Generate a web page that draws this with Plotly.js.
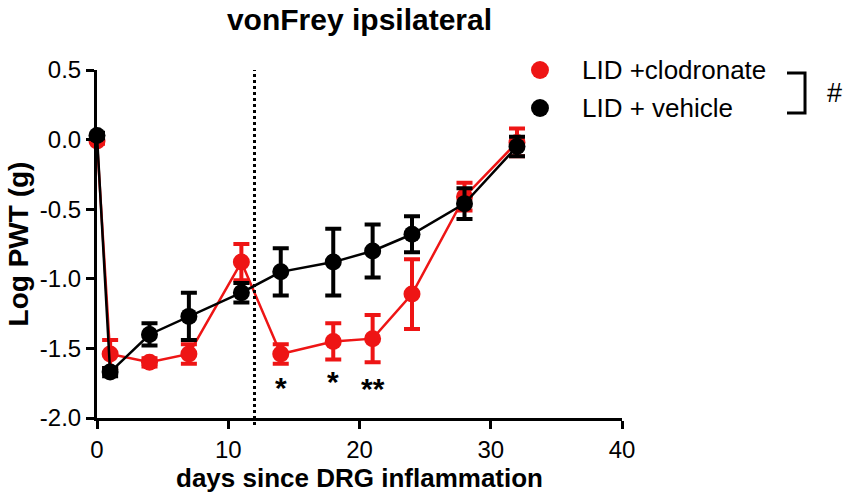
<!DOCTYPE html>
<html>
<head>
<meta charset="utf-8">
<script src="https://cdn.plot.ly/plotly-3.0.1.min.js"></script>
<style>
  body { margin: 0; background: #fff; }
  #chart { width: 851px; height: 504px; }
</style>
</head>
<body>
<div id="chart"></div>
<script>
// Jours et valeurs
const days = [0, 1, 4, 7, 11, 14, 18, 21, 24, 28, 32];
const clodronate = [-0.01, -1.54, -1.6, -1.54, -0.88, -1.54, -1.45, -1.43, -1.11, -0.41, -0.02];
const clodronateErr = [0.02, 0.1, 0.03, 0.07, 0.13, 0.07, 0.13, 0.17, 0.25, 0.1, 0.1];
const vehicle = [0.03, -1.67, -1.4, -1.27, -1.1, -0.95, -0.88, -0.8, -0.68, -0.46, -0.05];
const vehicleErr = [0.02, 0.03, 0.08, 0.17, 0.07, 0.17, 0.24, 0.19, 0.13, 0.11, 0.07];

const seriesNames = ["LID +clodronate", "LID + vehicle"];
const starDays = [14, 18, 21];
const starLabels = ["*", "*", "**"];
const starY = [-1.78, -1.74, -1.79];
const treatmentDay = 12;

const red = "#ee1515";
const font = "Liberation Sans, Arial, sans-serif";

function makeTrace(y, err, color) {
  return {
    x: days,
    y: y,
    type: "scatter",
    mode: "lines+markers",
    line: { color: color, width: 2.5 },
    marker: { color: color, size: 17 },
    error_y: { type: "data", array: err, visible: true, color: color, thickness: 4, width: 8 },
    cliponaxis: false,
    showlegend: false,
  };
}

const data = [makeTrace(clodronate, clodronateErr, red), makeTrace(vehicle, vehicleErr, "black")];

let annotations = starDays.map((d, i) => ({
  x: d, y: starY[i], text: starLabels[i], showarrow: false,
  font: { family: font, size: 30, weight: "bold", color: "black" },
}));

// légende faite à la main
annotations.push(
  { xref: "paper", yref: "paper", x: 0.92, y: 1.0, xanchor: "left", yanchor: "middle",
    text: seriesNames[0], showarrow: false, font: { family: font, size: 26, color: "black" } },
  { xref: "paper", yref: "paper", x: 0.92, y: 0.891, xanchor: "left", yanchor: "middle",
    text: seriesNames[1], showarrow: false, font: { family: font, size: 26, color: "black" } },
  { xref: "paper", yref: "paper", x: 1.404, y: 0.934, xanchor: "center", yanchor: "middle",
    text: "#", showarrow: false, font: { family: font, size: 27, color: "black" } }
);

const shapes = [
  { type: "line", xref: "x", yref: "paper", x0: treatmentDay, x1: treatmentDay, y0: -0.02, y1: 1,
    line: { color: "black", width: 3, dash: "dot" } },
  { type: "circle", xref: "paper", yref: "paper", x0: 0.8267, x1: 0.8609, y0: 0.9741, y1: 1.0259,
    fillcolor: red, line: { width: 0 } },
  { type: "circle", xref: "paper", yref: "paper", x0: 0.8267, x1: 0.8609, y0: 0.8649, y1: 0.9167,
    fillcolor: "black", line: { width: 0 } },
  { type: "path", xref: "paper", yref: "paper",
    path: "M 1.3143 0.9914 L 1.3486 0.9914 L 1.3486 0.8764 L 1.3143 0.8764",
    line: { color: "black", width: 3 } },
];

const layout = {
  width: 851,
  height: 504,
  margin: { l: 97, r: 229, t: 70, b: 86 },
  paper_bgcolor: "white",
  plot_bgcolor: "white",
  font: { family: font, color: "black" },
  title: {
    text: "vonFrey ipsilateral",
    xref: "paper", x: 0.5, xanchor: "center",
    y: 0.962, yanchor: "middle",
    font: { family: font, size: 30, weight: "bold", color: "black" },
  },
  xaxis: {
    range: [0, 40],
    tickvals: [0, 10, 20, 30, 40],
    showgrid: false, zeroline: false,
    showline: true, linewidth: 3, linecolor: "black",
    ticks: "outside", ticklen: 8, tickwidth: 3, tickcolor: "black",
    tickfont: { family: font, size: 24 },
    title: { text: "days since DRG inflammation", standoff: 6,
      font: { family: font, size: 26, weight: "bold" } },
  },
  yaxis: {
    range: [-2, 0.5],
    tickvals: [0.5, 0, -0.5, -1, -1.5, -2],
    ticktext: ["0.5", "0.0", "-0.5", "-1.0", "-1.5", "-2.0"],
    showgrid: false, zeroline: false,
    showline: true, linewidth: 3, linecolor: "black",
    ticks: "outside", ticklen: 8, tickwidth: 3, tickcolor: "black",
    tickfont: { family: font, size: 24 },
    title: { text: "Log PWT (g)", standoff: 4,
      font: { family: font, size: 28, weight: "bold" } },
  },
  annotations: annotations,
  shapes: shapes,
};

Plotly.newPlot("chart", data, layout, { displayModeBar: false, staticPlot: true });
</script>
</body>
</html>
